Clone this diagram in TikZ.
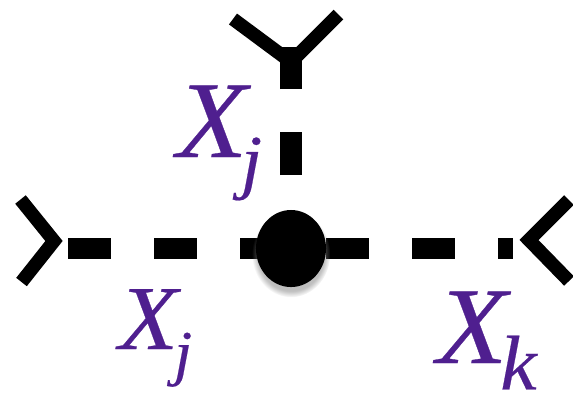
\documentclass[tikz,border=0pt]{standalone}
\usepackage{fontspec}
\newfontfamily\labelfont[FakeStretch=1.06,FakeBold=0.3]{Liberation Serif}
\usetikzlibrary{shapes.geometric,shadows}

\definecolor{labelpurple}{HTML}{4F1F8F}
% X size, index, index size, index drop, kern
\newcommand{\fieldlabel}[5]{\labelfont\itshape\fontsize{#1}{#1}\selectfont X\kern#5pt\raisebox{-#4pt}{\fontsize{#3}{#3}\selectfont #2}}

\begin{document}
\begin{tikzpicture}[
  x=0.01cm,y=-0.01cm,
  leg/.style={draw=black,line width=0.215cm,dash pattern=on 0.43cm off 0.43cm},
  fork/.style={draw=black,line width=0.135cm,miter limit=10},
  stem/.style={draw=black,line width=0.215cm},
  dot/.style={ellipse,fill=black,inner sep=0pt,minimum width=0.70cm,minimum height=0.77cm},
  lbl/.style={text=labelpurple,inner sep=0pt,anchor=base west}
]
\useasboundingbox (0,0) rectangle (573,393);

% ---- end points ----
\coordinate (legstart) at (68,248.5);
\coordinate (legend) at (513,248.5);
\coordinate (upstart) at (291,175);
\coordinate (upend) at (291,132);
\coordinate (stemstart) at (291,89);
\coordinate (stemend) at (291,47);

% ---- lines ----
\draw[leg] (legstart) -- (legend);
\draw[stem] (upstart) -- (upend);
\draw[stem] (stemstart) -- (stemend);

% ---- forks ----
\draw[fork] (20.5,199.5) -- (54,241) -- (21.5,282);
\draw[fork] (569,200) -- (529,240) -- (569,281);
\draw[fork] (233,19) -- (291,62) -- (338.5,14.5);

% ---- vertex ----
\node[dot,circular drop shadow={shadow xshift=0cm,shadow yshift=-0.05cm,shadow scale=1.12,opacity=0.5}] (vertex) at (291,248.5) {};

% ---- labels ----
\node[lbl] (labelup) at (176,157) {\fieldlabel{31}{j}{20.5}{8}{-1.8}};
\node[lbl] (labelleft) at (118,349) {\fieldlabel{26}{j}{17.6}{7}{-1.1}};
\node[lbl] (labelright) at (436,363) {\fieldlabel{31}{k}{22}{7.5}{-2}};
\end{tikzpicture}
\end{document}
